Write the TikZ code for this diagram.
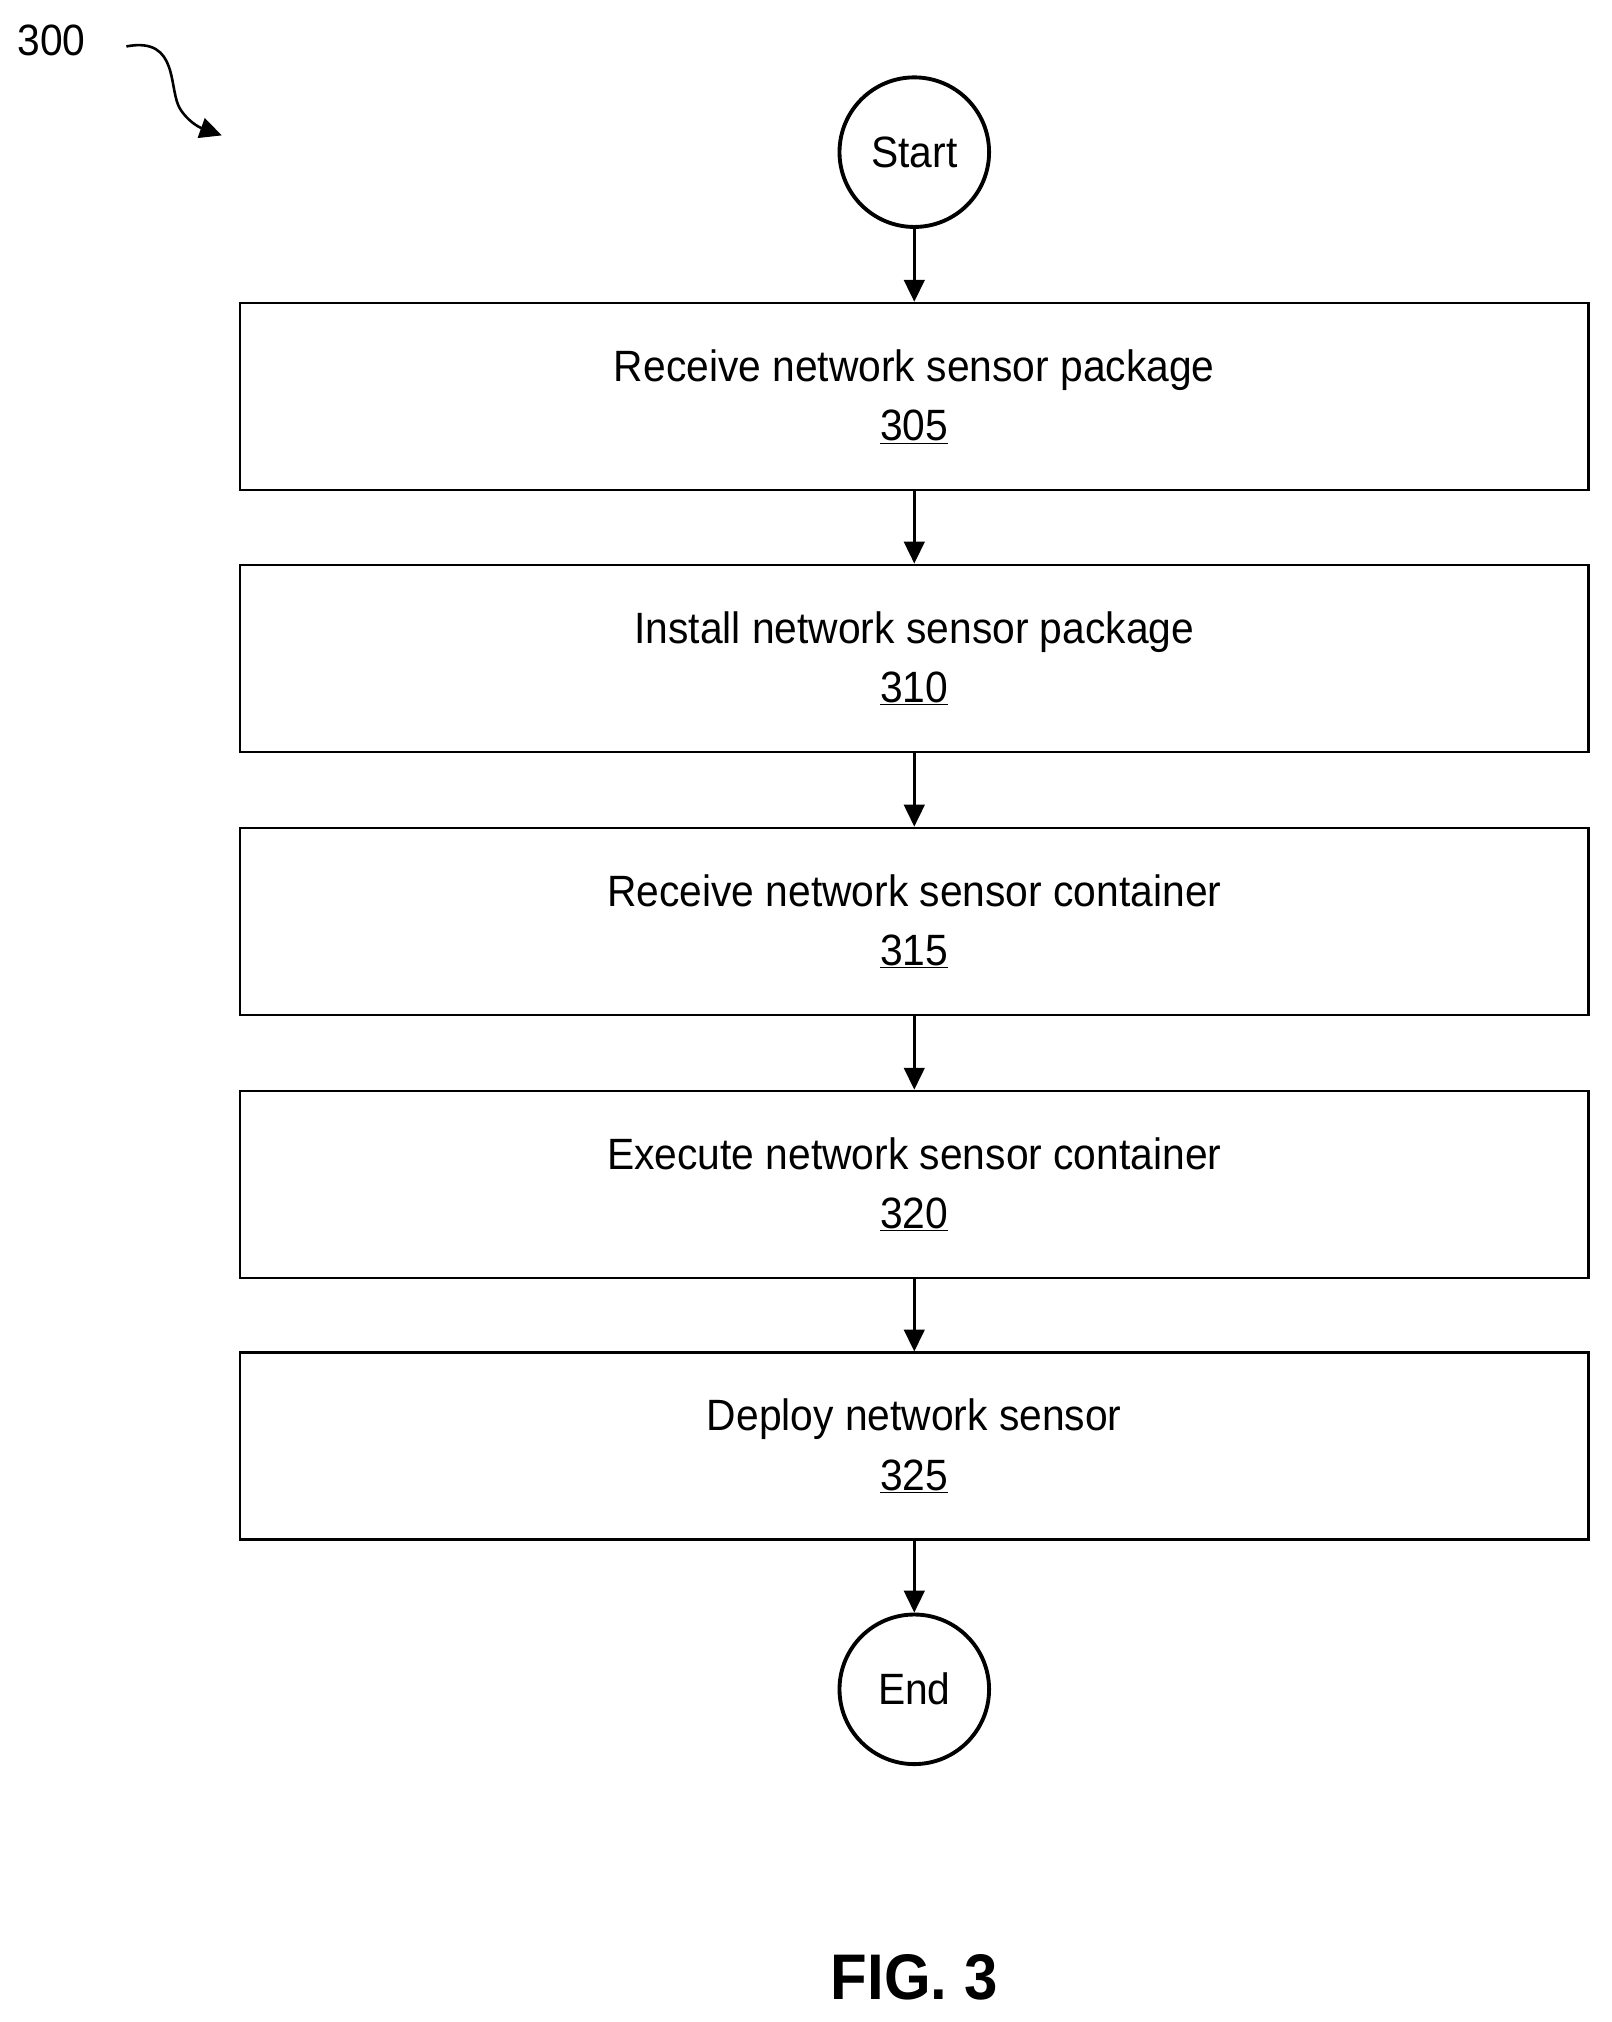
\documentclass[tikz,border=0pt]{standalone}
\usepackage{fontspec}
\setmainfont{Liberation Sans}
\usetikzlibrary{arrows.meta}
\newcommand{\nar}[1]{\scalebox{0.93}[1]{#1}}
\begin{document}
\begin{tikzpicture}[x=1pt,y=-1pt,
  box/.style={draw,line width=2pt,minimum width=1046pt,minimum height=145pt,align=center,inner sep=0pt,font=\fontsize{34}{46}\selectfont},
  term/.style={draw,circle,line width=3pt,minimum size=116pt,inner sep=0pt,font=\fontsize{34}{40}\selectfont},
  arr/.style={line width=2pt,-{Triangle[length=17pt,width=16pt]}}]
\useasboundingbox (0,0) rectangle (1250,1568);
\node[term] (s) at (709,118) {\nar{Start}};
\node[box] (a) at (709,307.5) {\nar{Receive network sensor package}\\\nar{\underline{305}}};
\node[box] (b) at (709,510.5) {\nar{Install network sensor package}\\\nar{\underline{310}}};
\node[box] (c) at (709,714.5) {\nar{Receive network sensor container}\\\nar{\underline{315}}};
\node[box] (d) at (709,918.5) {\nar{Execute network sensor container}\\\nar{\underline{320}}};
\node[box] (e) at (709,1121.5) {\nar{Deploy network sensor}\\\nar{\underline{325}}};
\node[term] (f) at (709,1310) {\nar{End}};
\draw[arr] (s) -- (a);
\draw[arr] (a) -- (b);
\draw[arr] (b) -- (c);
\draw[arr] (c) -- (d);
\draw[arr] (d) -- (e);
\draw[arr] (e) -- (f);
\node[font=\fontsize{34}{40}\selectfont] (n) at (40,31) {\nar{300}};
\coordinate (t) at (172,105);
\draw[arr] (98,36) .. controls (140,28) and (130,70) .. (140,85) .. controls (148,97) and (158,100) .. (t);
\node[font=\bfseries\fontsize{50}{56}\selectfont] (fig) at (709,1533) {\nar{FIG. 3}};
\end{tikzpicture}
\end{document}
